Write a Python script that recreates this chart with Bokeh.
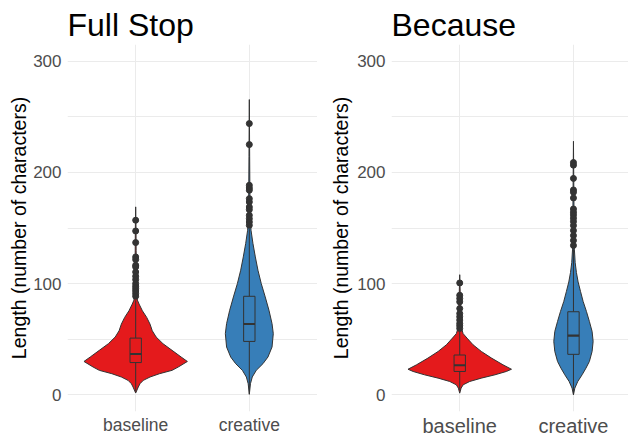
from bokeh.plotting import figure
from bokeh.layouts import row
from bokeh.models import Range1d, FixedTicker
from bokeh.embed import file_html
from bokeh.resources import INLINE

# ---------------- data ----------------
categories = ["baseline", "creative"]
cat_pos = [1, 2]
fill_colors = ["#E41A1C", "#377EB8"]

# Violin profiles: value (chars) and half-width (x units)
fs_base_y = [1.6, 7, 10, 13, 16, 19, 22, 25, 30, 34, 40, 46, 52, 57.6, 63.6, 69.6, 75.6, 81.6, 85.2, 95, 110, 130, 150, 169]
fs_base_w = [0.0, 0.023, 0.038, 0.067, 0.126, 0.21, 0.32, 0.375, 0.455, 0.40, 0.32, 0.24, 0.18, 0.146, 0.126, 0.097, 0.059, 0.03, 0.015, 0.01, 0.006, 0.004, 0.003, 0.0]
fs_crea_y = [0.4, 10, 16, 22, 28, 34, 43, 55, 64, 76, 88, 100, 112, 124, 136, 148, 160, 184, 214, 265.5]
fs_crea_w = [0.0, 0.01, 0.026, 0.061, 0.12, 0.164, 0.2, 0.211, 0.2, 0.173, 0.14, 0.105, 0.076, 0.053, 0.032, 0.015, 0.007, 0.005, 0.003, 0.0]
bc_base_y = [1.5, 6, 9, 12, 15, 18, 21, 23, 27, 33, 39, 45, 51, 55, 60, 80.6, 108]
bc_base_w = [0.0, 0.012, 0.03, 0.088, 0.19, 0.31, 0.41, 0.455, 0.38, 0.28, 0.19, 0.117, 0.064, 0.03, 0.015, 0.007, 0.0]
bc_crea_y = [0, 6, 12, 18, 24, 30, 39, 48, 57, 66, 75, 84, 93, 101.5, 110, 119, 131, 164, 228]
bc_crea_w = [0.0, 0.012, 0.038, 0.076, 0.11, 0.14, 0.164, 0.173, 0.164, 0.14, 0.114, 0.085, 0.062, 0.041, 0.026, 0.015, 0.008, 0.005, 0.0]

# Box statistics: [lower whisker, q1, median, q3, upper whisker]
fs_base_box = [3, 29, 36.7, 51, 85]
fs_crea_box = [1, 48, 63.7, 88.6, 149]
bc_base_box = [4, 21, 26.6, 35.8, 57]
bc_crea_box = [0.5, 36.4, 53.2, 74.7, 131]

# Outliers
fs_base_out = [157, 147.3, 136.9, 124, 121.6, 116.5, 115, 110.4, 106.6, 103.6, 100, 97.6, 95.5, 93.4, 91, 88.6]
fs_crea_out = [243.9, 225, 188.4, 186, 184, 176.4, 173.4, 168.9, 166.5, 161.4, 158.4, 155.4, 152.4]
bc_base_out = [100.6, 89.5, 86.6, 83.6, 77.6, 73.1, 70.2, 67.2, 64.2, 62.1, 59.7]
bc_crea_out = [208.9, 206.5, 194.6, 184.2, 182.1, 177, 167.1, 164.2, 161.8, 158.8, 155.8, 152.2, 147.7, 143.2, 138.8, 134.3]

y_ticks = [0, 100, 200, 300]
y_minor = [50, 150, 250]
y_label = "Length (number of characters)"

FONT = "Liberation Sans"
DARK = "#333333"


def make_panel(title, violins, boxes, outliers, x_end, border_left, frame_w, xfont, label_standoff):
    p = figure(frame_width=frame_w, frame_height=367,
               x_range=Range1d(0.4, x_end), y_range=Range1d(-15, 315),
               output_backend="svg", toolbar_location=None,
               min_border_left=border_left, min_border_right=0,
               min_border_top=44, min_border_bottom=19)
    p.outline_line_color = None
    p.title.text = title
    p.title.text_font = FONT
    p.title.text_font_size = "32px"
    p.title.text_font_style = "normal"
    p.title.text_color = "black"
    p.title.standoff = 0
    p.title.vertical_align = "top"

    for i, (vy, vw) in enumerate(violins):
        c = cat_pos[i]
        xs = [c - w for w in vw] + [c + w for w in reversed(vw)]
        ys = list(vy) + list(reversed(vy))
        p.patch(xs, ys, fill_color=fill_colors[i], line_color=DARK, line_width=1)
        lw, q1, med, q3, uw = boxes[i]
        p.segment(x0=[c, c], y0=[lw, q3], x1=[c, c], y1=[q1, uw], line_color=DARK, line_width=1)
        p.quad(left=[c - 0.05], right=[c + 0.05], bottom=[q1], top=[q3],
               fill_color=fill_colors[i], line_color=DARK, line_width=1)
        p.segment(x0=[c - 0.05], y0=[med], x1=[c + 0.05], y1=[med], line_color=DARK, line_width=2.2)
        p.scatter([c] * len(outliers[i]), outliers[i], size=6, color=DARK)

    p.xaxis.ticker = FixedTicker(ticks=cat_pos)
    p.xaxis.major_label_overrides = {cat_pos[0]: categories[0], cat_pos[1]: categories[1]}
    p.yaxis.ticker = FixedTicker(ticks=y_ticks, minor_ticks=y_minor)
    p.yaxis.axis_label = y_label
    for ax in (p.xaxis, p.yaxis):
        ax.axis_line_color = None
        ax.major_tick_line_color = None
        ax.minor_tick_line_color = None
        ax.major_tick_out = 0
        ax.major_tick_in = 0
        ax.minor_tick_out = 0
        ax.minor_tick_in = 0
        ax.major_label_text_font = FONT
        ax.major_label_text_color = "#4D4D4D"
    p.xaxis.major_label_text_font_size = xfont
    p.xaxis.major_label_standoff = 3
    p.yaxis.major_label_text_font_size = "17px"
    p.yaxis.major_label_standoff = 6
    p.yaxis.axis_label_text_font = FONT
    p.yaxis.axis_label_text_font_size = "19.5px"
    p.yaxis.axis_label_text_font_style = "normal"
    p.yaxis.axis_label_text_color = "black"
    p.yaxis.axis_label_standoff = label_standoff
    p.xgrid.grid_line_color = "#EBEBEB"
    p.ygrid.grid_line_color = "#EBEBEB"
    p.ygrid.minor_grid_line_color = "#EBEBEB"
    p.ygrid.minor_grid_line_width = 1
    return p


p1 = make_panel("Full Stop", [(fs_base_y, fs_base_w), (fs_crea_y, fs_crea_w)],
                [fs_base_box, fs_crea_box], [fs_base_out, fs_crea_out], 2.6, 67, 250, "17.5px", 0)
p2 = make_panel("Because", [(bc_base_y, bc_base_w), (bc_crea_y, bc_crea_w)],
                [bc_base_box, bc_crea_box], [bc_base_out, bc_crea_out], 2.484, 74, 237, "20px", 2)

layout = row(p1, p2)
open("out.html", "w").write(file_html(layout, INLINE))
